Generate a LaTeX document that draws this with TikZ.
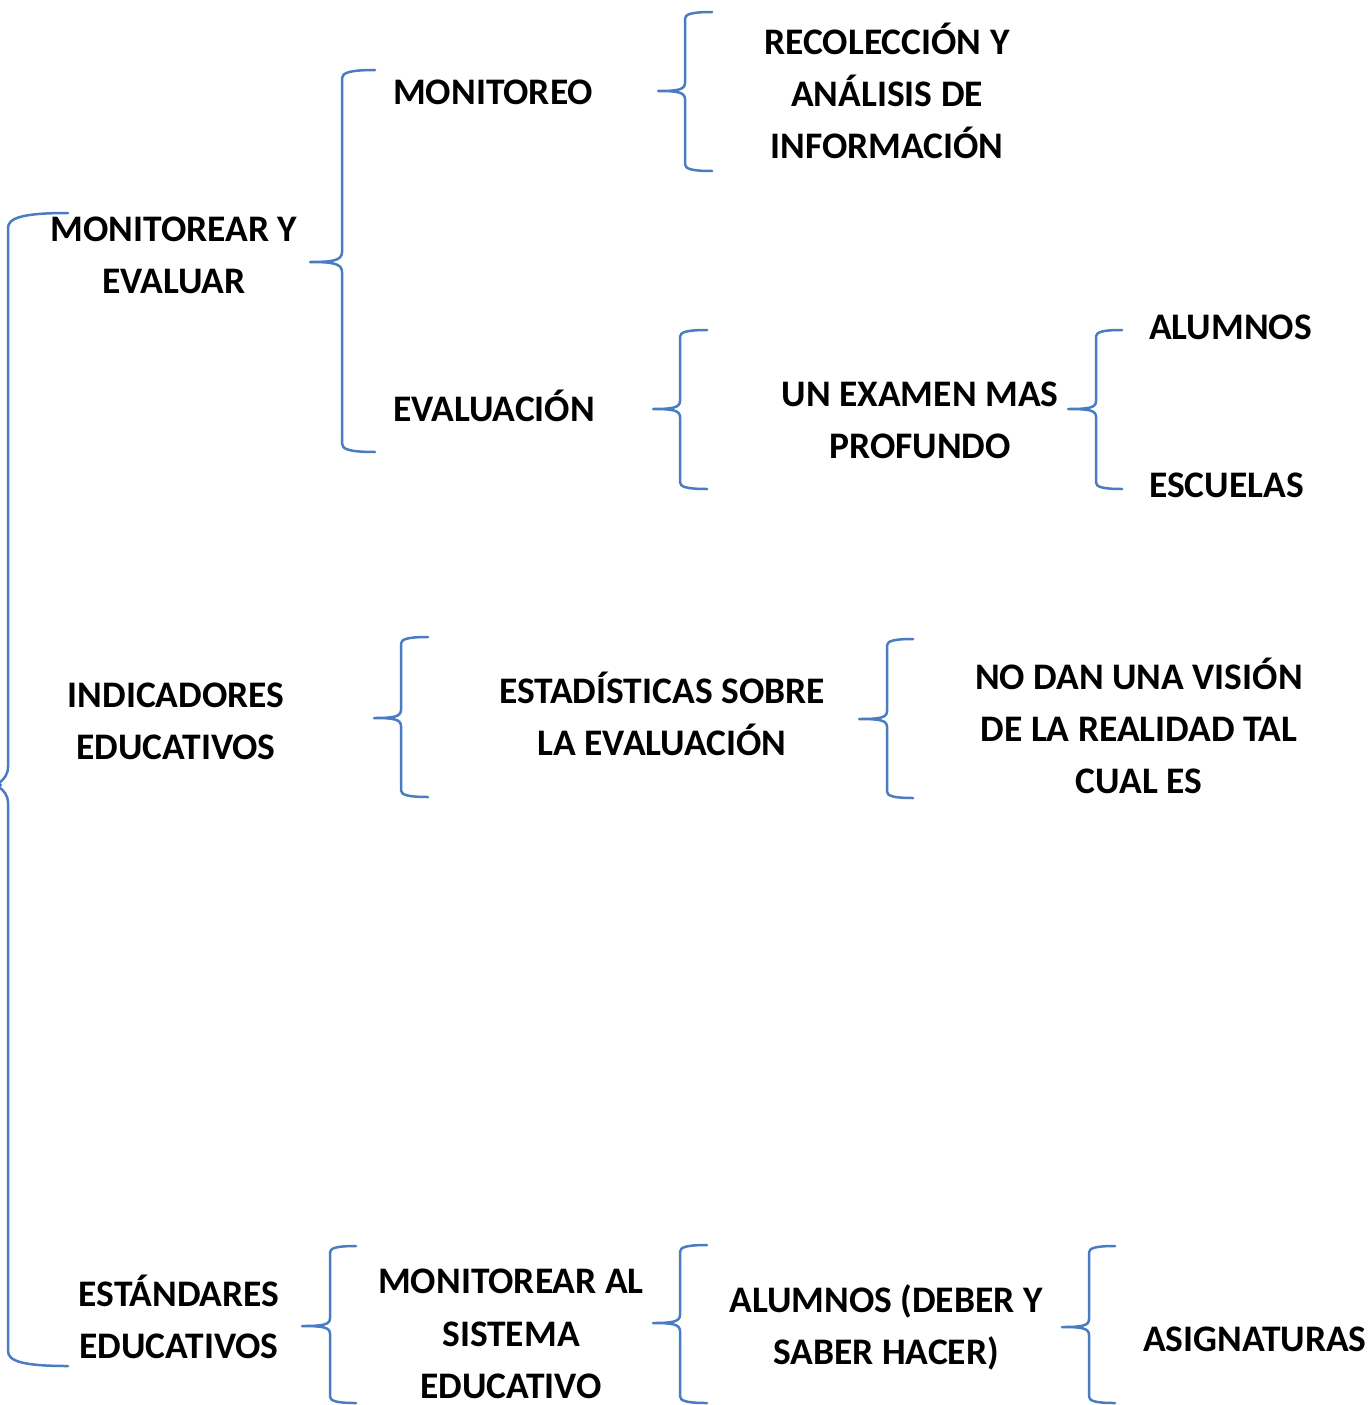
\documentclass[tikz,border=0pt]{standalone}
\usepackage{fontspec}
\setmainfont{Carlito}
\definecolor{bracecol}{HTML}{4A7CC2}
\tikzset{
  brace/.style={draw=bracecol, line width=2.5pt, line join=round, line cap=round},
  txt/.style={font=\bfseries\fontsize{37.5}{46}\selectfont, anchor=base, inner sep=0pt, text=black},
  txtl/.style={txt, anchor=base west}
}
% #1 line x, #2 top y, #3 bottom y, #4 tip y, #5 tip x, #6 end x
\newcommand\wordbrace[6]{%
  \pgfmathsetmacro\bw{#6-#1}%
  \draw[brace] (#6,#2) .. controls ({#1+0.25*\bw},#2) and (#1,{#2+0.08*\bw}) .. (#1,{#2+0.25*\bw})
    -- (#1,{#4-0.3*\bw}) .. controls (#1,{#4-0.04*\bw}) and ({#1-0.3*\bw},#4) .. (#5,#4)
    .. controls ({#1-0.3*\bw},#4) and (#1,{#4+0.04*\bw}) .. (#1,{#4+0.3*\bw})
    -- (#1,{#3-0.25*\bw}) .. controls (#1,{#3-0.08*\bw}) and ({#1+0.25*\bw},#3) .. (#6,#3);%
}
\begin{document}
\begin{tikzpicture}[x=1pt,y=-1pt]
\useasboundingbox (0,0) rectangle (1372,1405);
% braces
\wordbrace{8}{213}{1366}{785}{1}{68}
\wordbrace{342}{70}{452}{262}{310}{375}
\wordbrace{685}{12}{171}{91}{658}{712}
\wordbrace{680}{330}{489}{409}{653}{707}
\wordbrace{1096}{330}{489}{409}{1068}{1122}
\wordbrace{401}{637}{797}{718}{374}{428}
\wordbrace{887}{639}{798}{719}{859}{913}
\wordbrace{330}{1246}{1403}{1326}{302}{356}
\wordbrace{680}{1245}{1403}{1323}{653}{707}
\wordbrace{1089}{1246}{1403}{1327}{1062}{1115}
% texts
\node[txt] (me1) at (174,241) {MONITOREAR Y};
\node[txt] (me2) at (174,293) {EVALUAR};
\node[txtl] (mon) at (393,104) {MONITOREO};
\node[txt] (rec1) at (887,55) {RECOLECCIÓN Y};
\node[txt] (rec2) at (887,106) {ANÁLISIS DE};
\node[txt] (rec3) at (887,158) {INFORMACIÓN};
\node[txtl] (eva) at (393,421) {EVALUACIÓN};
\node[txt] (ex1) at (920,406) {UN EXAMEN MAS};
\node[txt] (ex2) at (920,458) {PROFUNDO};
\node[txtl] (alu) at (1149,339) {ALUMNOS};
\node[txtl] (esc) at (1149,497) {ESCUELAS};
\node[txt] (ind1) at (176,707) {INDICADORES};
\node[txt] (ind2) at (176,759) {EDUCATIVOS};
\node[txt] (est1) at (662,703) {ESTADÍSTICAS SOBRE};
\node[txt] (est2) at (662,755) {LA EVALUACIÓN};
\node[txt] (nod1) at (1139,689) {NO DAN UNA VISIÓN};
\node[txt] (nod2) at (1139,741) {DE LA REALIDAD TAL};
\node[txt] (nod3) at (1139,793) {CUAL ES};
\node[txt] (std1) at (179,1306) {ESTÁNDARES};
\node[txt] (std2) at (179,1358) {EDUCATIVOS};
\node[txt] (msi1) at (511,1293) {MONITOREAR AL};
\node[txt] (msi2) at (511,1346) {SISTEMA};
\node[txt] (msi3) at (511,1398) {EDUCATIVO};
\node[txt] (ads1) at (886,1312) {ALUMNOS (DEBER Y};
\node[txt] (ads2) at (886,1364) {SABER HACER)};
\node[txtl] (asi) at (1143,1351) {ASIGNATURAS};
\end{tikzpicture}
\end{document}
